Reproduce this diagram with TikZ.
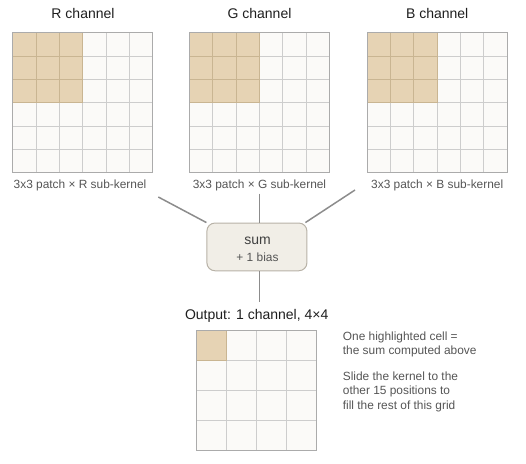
\documentclass[tikz,border=0pt]{standalone}
\usepackage{fontspec}
\setmainfont{Liberation Sans}
\definecolor{cellbg}{HTML}{FBFAF8}
\definecolor{hlfill}{HTML}{E6D3B4}
\definecolor{hlline}{HTML}{C9B592}
\definecolor{gline}{HTML}{CDCDCD}
\definecolor{gborder}{HTML}{ABABAB}
\definecolor{boxfill}{HTML}{F1EEE7}
\definecolor{boxline}{HTML}{B8B2A7}
\definecolor{conn}{HTML}{8C8C8C}
\definecolor{captxt}{HTML}{555555}
\definecolor{titletxt}{HTML}{1E1E1E}
\tikzset{
  titletext/.style={font=\fontsize{14}{16}\selectfont, text=titletxt, anchor=base, inner sep=0pt},
  captext/.style={font=\fontsize{11.9}{14}\selectfont, text=captxt, anchor=base, inner sep=0pt},
  notetext/.style={font=\fontsize{11.9}{14.5}\selectfont, text=captxt, anchor=base west, inner sep=0pt},
  sumbox/.style={draw=boxline, fill=boxfill, line width=1pt, rounded corners=8pt, minimum width=100pt, minimum height=47.7pt, inner sep=0pt},
  connector/.style={draw=conn, line width=1.5pt},
  gridline/.style={draw=gline, line width=1pt},
  hlgridline/.style={draw=hlline, line width=1pt},
  gridborder/.style={draw=gborder, line width=1.2pt},
}
\begin{document}
\begin{tikzpicture}[x=1pt,y=-1pt]
\useasboundingbox (0,0) rectangle (526,463);

% input channel grids
\foreach \L/\ch in {12.7/R,189.5/G,367.2/B}{
  \pgfmathsetmacro{\T}{32.7}
  \pgfmathsetmacro{\S}{140}
  \pgfmathsetmacro{\c}{\S/6}
  \fill[cellbg] (\L,\T) rectangle ++(\S,\S);
  \fill[hlfill] (\L,\T) rectangle ++(3*\c,3*\c);
  \foreach \k in {1,...,5}{
    \draw[gridline] (\L+\k*\c,\T) -- (\L+\k*\c,\T+\S);
    \draw[gridline] (\L,\T+\k*\c) -- (\L+\S,\T+\k*\c);
  }
  \foreach \k in {1,2,3}{
    \draw[hlgridline] (\L+\k*\c,\T) -- (\L+\k*\c,\T+3*\c);
    \draw[hlgridline] (\L,\T+\k*\c) -- (\L+3*\c,\T+\k*\c);
  }
  \draw[gridborder] (\L,\T) rectangle ++(\S,\S);
}

% titles and captions
\node[titletext] (rtitle) at (83,18.3) {R channel};
\node[titletext] (gtitle) at (259.5,18.3) {G channel};
\node[titletext] (btitle) at (437.2,18.3) {B channel};
\node[captext] (rcap) at (80,188.3) {3x3 patch × R sub-kernel};
\node[captext] (gcap) at (259.5,188.3) {3x3 patch × G sub-kernel};
\node[captext] (bcap) at (437.2,188.3) {3x3 patch × B sub-kernel};

% sum box
\node[sumbox] (sum) at (256.9,246.9) {};
\node[font=\fontsize{14}{16}\selectfont, text=titletxt!85, anchor=base, inner sep=0pt] (sumlabel) at (257.5,244) {sum};
\node[font=\fontsize{11.9}{14}\selectfont, text=captxt, anchor=base, inner sep=0pt] (biaslabel) at (257.5,261.3) {+ 1 bias};

% connectors
\coordinate (rs) at (158.3,197);
\coordinate (gs) at (259.5,193.5);
\coordinate (bs) at (355,190);
\coordinate (oend) at (259.5,301.7);
\draw[connector] (rs) -- (sum.north west);
\draw[connector] (gs) -- (gs |- sum.north);
\draw[connector] (bs) -- ([xshift=-2pt]sum.north east);
\draw[connector] (gs |- sum.south) -- (oend);

% output grid
\node[titletext] (outtitle) at (256.7,319.5) {Output: 1 channel, 4×4};
\pgfmathsetmacro{\OL}{196.7}
\pgfmathsetmacro{\OT}{330.7}
\pgfmathsetmacro{\OC}{30}
\fill[cellbg] (\OL,\OT) rectangle ++(4*\OC,4*\OC);
\fill[hlfill] (\OL,\OT) rectangle ++(\OC,\OC);
\foreach \k in {1,2,3}{
  \draw[gridline] (\OL+\k*\OC,\OT) -- (\OL+\k*\OC,\OT+4*\OC);
  \draw[gridline] (\OL,\OT+\k*\OC) -- (\OL+4*\OC,\OT+\k*\OC);
}
\draw[hlgridline] (\OL+\OC,\OT) -- (\OL+\OC,\OT+\OC) -- (\OL,\OT+\OC);
\draw[gridborder] (\OL,\OT) rectangle ++(4*\OC,4*\OC);

% notes
\node[notetext] (n1) at (342.7,340) {One highlighted cell =};
\node[notetext] (n2) at (342.7,354.3) {the sum computed above};
\node[notetext] (n3) at (342.7,380) {Slide the kernel to the};
\node[notetext] (n4) at (342.7,394.5) {other 15 positions to};
\node[notetext] (n5) at (342.7,409.3) {fill the rest of this grid};
\end{tikzpicture}
\end{document}
